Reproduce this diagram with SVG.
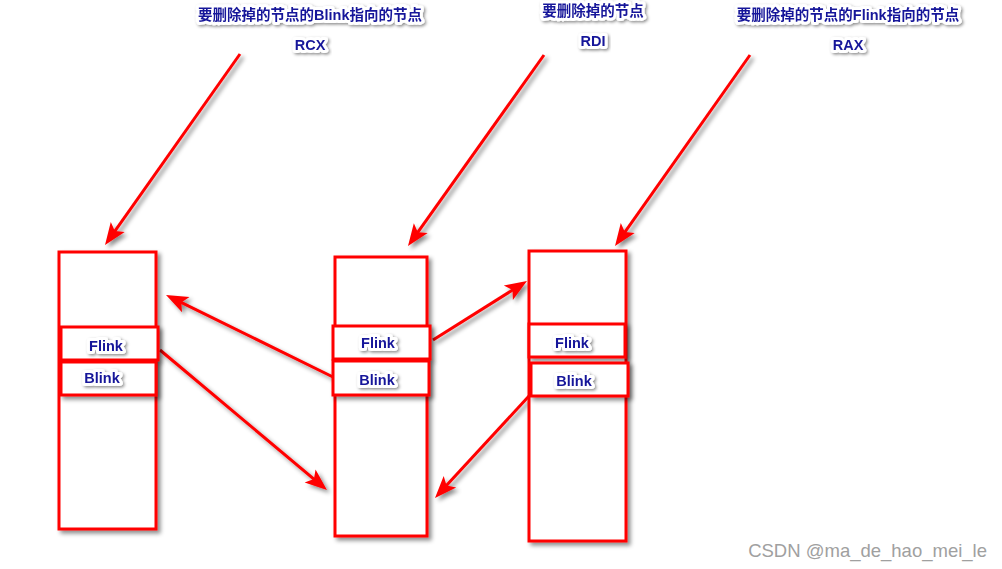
<svg xmlns="http://www.w3.org/2000/svg" width="1002" height="569" viewBox="0 0 1002 569">
  <style>
    .box { fill: #ffffff; stroke: #ff0000; stroke-width: 3; filter: url(#sh); }
    .conn { fill: none; stroke: #ff0000; stroke-width: 3; marker-end: url(#ah); }
    .lbl { font-family: "Liberation Sans", "Noto Sans CJK SC", sans-serif; font-weight: bold; font-size: 14.5px; fill: #17179a; text-anchor: middle; stroke: #ffffff; stroke-width: 6; stroke-linejoin: round; paint-order: stroke; filter: url(#tsh); }
    .wm { font-family: "Liberation Sans", sans-serif; font-size: 18.5px; fill: #a0a0a0; text-anchor: end; }
  </style>
  <defs>
    <filter id="sh" x="-20%" y="-20%" width="150%" height="150%">
      <feDropShadow dx="3" dy="3" stdDeviation="2" flood-color="#000" flood-opacity="0.45"/>
    </filter>
    <filter id="tsh" x="-20%" y="-60%" width="140%" height="220%">
      <feDropShadow dx="1.5" dy="1.5" stdDeviation="1.5" flood-color="#000" flood-opacity="0.45"/>
    </filter>
    <marker id="ah" markerUnits="userSpaceOnUse" markerWidth="30" markerHeight="20" viewBox="0 -10 30 20" refX="12" refY="0" orient="auto" overflow="visible">
      <path d="M22,0 L0,-8.5 L5,0 L0,8.5 Z" fill="#ff0000"/>
    </marker>
  </defs>
  <rect width="1002" height="569" fill="#ffffff"/>

  <g id="connectors" filter="url(#sh)">
    <path class="conn" d="M240,54 L110.8,236.8"/>
    <path class="conn" d="M544,55 L413.8,237.9"/>
    <path class="conn" d="M750,55 L620.8,237.8"/>
    <path class="conn" d="M333,377 L175,299.4"/>
    <path class="conn" d="M160,350 L319.3,483.6"/>
    <path class="conn" d="M433,340 L518.5,286.3"/>
    <path class="conn" d="M529,396 L441.8,490.6"/>
  </g>

  <g id="node-rcx">
    <rect class="box" x="59" y="252" width="97" height="277"/>
    <rect class="box" x="61" y="327" width="97" height="33"/>
    <rect class="box" x="61" y="362" width="95" height="33"/>
    <text class="lbl" x="106" y="351">Flink</text>
    <text class="lbl" x="102" y="383">Blink</text>
  </g>

  <g id="node-rdi">
    <rect class="box" x="335" y="257" width="92" height="279"/>
    <rect class="box" x="333" y="326" width="97" height="33"/>
    <rect class="box" x="333" y="361" width="96" height="34"/>
    <text class="lbl" x="378" y="348">Flink</text>
    <text class="lbl" x="377" y="385">Blink</text>
  </g>

  <g id="node-rax">
    <rect class="box" x="529" y="251" width="97" height="290"/>
    <rect class="box" x="529" y="324" width="96" height="33"/>
    <rect class="box" x="531" y="363" width="97" height="33"/>
    <text class="lbl" x="572" y="348">Flink</text>
    <text class="lbl" x="574" y="386">Blink</text>
  </g>

  <g id="label-rcx">
    <text class="lbl" x="310" y="20">要删除掉的节点的Blink指向的节点</text>
    <text class="lbl" x="310" y="50">RCX</text>
  </g>
  <g id="label-rdi">
    <text class="lbl" x="593" y="16">要删除掉的节点</text>
    <text class="lbl" x="593" y="46">RDI</text>
  </g>
  <g id="label-rax">
    <text class="lbl" x="848" y="20">要删除掉的节点的Flink指向的节点</text>
    <text class="lbl" x="848" y="50">RAX</text>
  </g>

  <text class="wm" x="987" y="557">CSDN @ma_de_hao_mei_le</text>
</svg>
